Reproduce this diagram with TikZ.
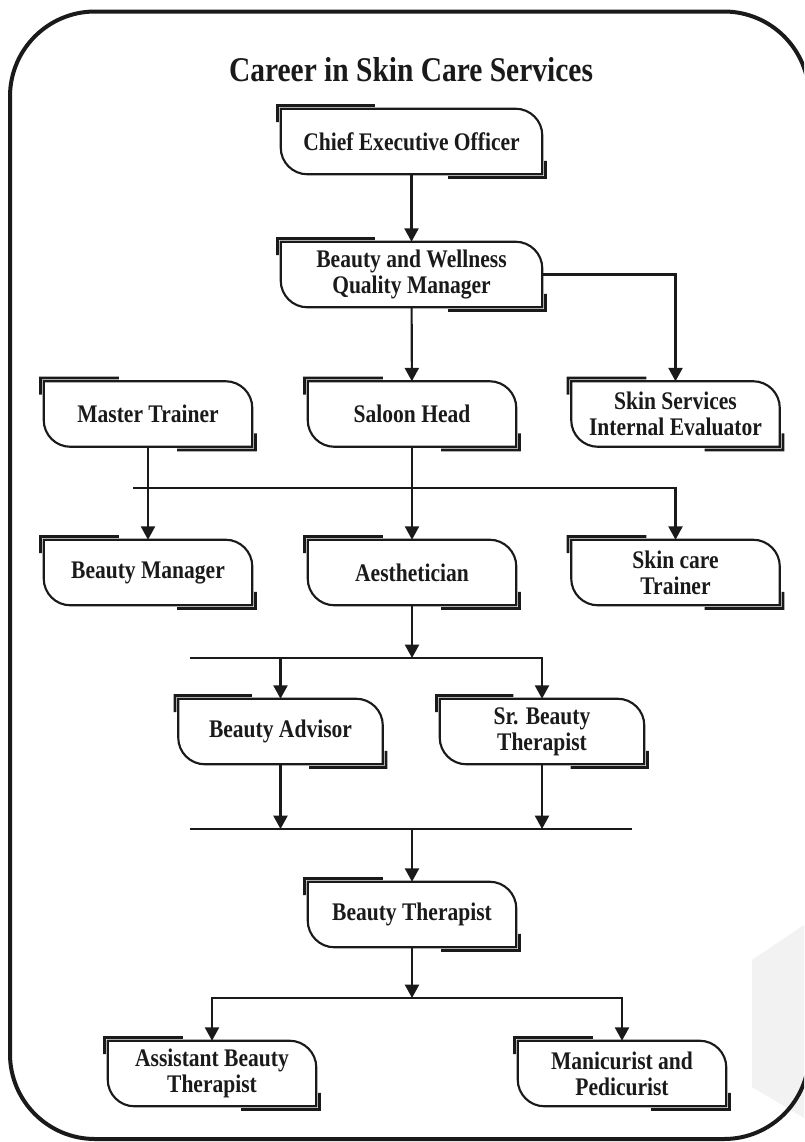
\documentclass[tikz,border=0pt]{standalone}
\usepackage{fontspec}
\setmainfont{Liberation Serif}[FakeStretch=0.85]
\usetikzlibrary{arrows.meta,calc}
\definecolor{ink}{HTML}{1A1A1A}
\tikzset{
  box/.style={draw=none, minimum height=48.75pt, align=center, inner sep=0pt,
    text=ink, font=\bfseries\fontsize{19}{19.5}\selectfont},
  wbox/.style={box, minimum width=195.75pt},
  nbox/.style={box, minimum width=156pt},
  mbox/.style={box, minimum width=153pt},
  arr/.style={draw=ink, -{Triangle[length=10pt,width=10.5pt]}, line width=1.6pt},
  conn/.style={draw=ink, line width=1.6pt},
  outline/.style={draw=ink, line width=1.6pt},
  accent/.style={draw=ink, line width=2pt},
  frame/.style={draw=ink, line width=3pt},
}
\newcommand\cardbox[1]{%
  \draw[outline] (#1.north west) -- ([xshift=-20pt]#1.north east)
    arc[start angle=90,end angle=0,radius=20pt] -- (#1.south east)
    -- ([xshift=20pt]#1.south west)
    arc[start angle=270,end angle=180,radius=20pt] -- cycle;
  \draw[accent] ([xshift=-2.4pt,yshift=-10pt]#1.north west)
    -- ([xshift=-2.4pt,yshift=2.4pt]#1.north west)
    -- ($(#1.north west)!0.36!(#1.north east)+(0,2.4pt)$);
  \draw[accent] ([xshift=2.4pt,yshift=10pt]#1.south east)
    -- ([xshift=2.4pt,yshift=-2.4pt]#1.south east)
    -- ($(#1.south east)!0.36!(#1.south west)+(0,-2.4pt)$);
}
\begin{document}
\begin{tikzpicture}[x=0.75pt,y=0.75pt]
\path[use as bounding box] (0,0) rectangle (804,-1142);
\clip (0,0) rectangle (804,-1142);
% faint background wedge
\fill[black!5] (752,-960) -- (804,-925) -- (804,-1118) -- (752,-1087) -- cycle;
% outer frame
\draw[frame, rounded corners=63.75pt] (10,-11.5) rectangle (809,-1139);
% title
\node[text=ink, font=\bfseries\fontsize{26}{28}\selectfont] (title) at (411,-70) {Career in Skin Care Services};
% nodes
\node[wbox] (ceo)  at (411.5,-141.5) {Chief Executive Officer};
\node[wbox] (bwqm) at (411.5,-274.5) {Beauty and Wellness\\Quality Manager};
\node[nbox] (mt)   at (148,-414) {Master Trainer};
\node[nbox] (sh)   at (412,-414) {Saloon Head};
\node[nbox] (ssie) at (675.5,-414) {Skin Services\\Internal Evaluator};
\node[nbox] (bm)   at (148,-572.5) {Beauty Manager};
\node[nbox] (aes)  at (412,-572.5) {Aesthetician};
\node[nbox] (sct)  at (675.5,-572.5) {Skin care\\Trainer};
\node[mbox] (ba)   at (280.5,-731.5) {Beauty Advisor};
\node[mbox] (sbt)  at (542,-731.5) {Sr. Beauty\\Therapist};
\node[nbox] (bt)   at (412,-914.5) {Beauty Therapist};
\node[nbox] (abt)  at (212,-1073.5) {Assistant Beauty\\Therapist};
\node[nbox] (mp)   at (622,-1073.5) {Manicurist and\\Pedicurist};
\foreach \n in {ceo,bwqm,mt,sh,ssie,bm,aes,sct,ba,sbt,bt,abt,mp}{\cardbox{\n}}
% connector joints
\coordinate (l1) at (133,-488);
\coordinate (l2) at (190,-658);
\coordinate (l3) at (190,-829);
\coordinate (r3) at (632,-829);
\coordinate (l4) at (412,-998);
% connectors
\draw[arr] (ceo) -- (bwqm);
\draw[arr] (bwqm) -- (sh);
\draw[arr] (bwqm.east) -| (ssie.north);
\draw[arr] (l1) -| (sct.north);
\draw[arr] (mt.south) -- (bm.north);
\draw[arr] (sh.south) -- (aes.north);
\draw[arr] (l2) -| (sbt.north);
\draw[arr] (aes.south) -- (aes.south |- l2);
\draw[arr] (ba.north |- l2) -- (ba.north);
\draw[conn] (l3) -- (r3);
\draw[arr] (ba.south) -- (ba.south |- l3);
\draw[arr] (sbt.south) -- (sbt.south |- l3);
\draw[arr] (bt.north |- l3) -- (bt.north);
\draw[arr] (bt.south) -- (l4);
\draw[arr] (l4) -| (abt.north);
\draw[arr] (l4) -| (mp.north);
\end{tikzpicture}
\end{document}
